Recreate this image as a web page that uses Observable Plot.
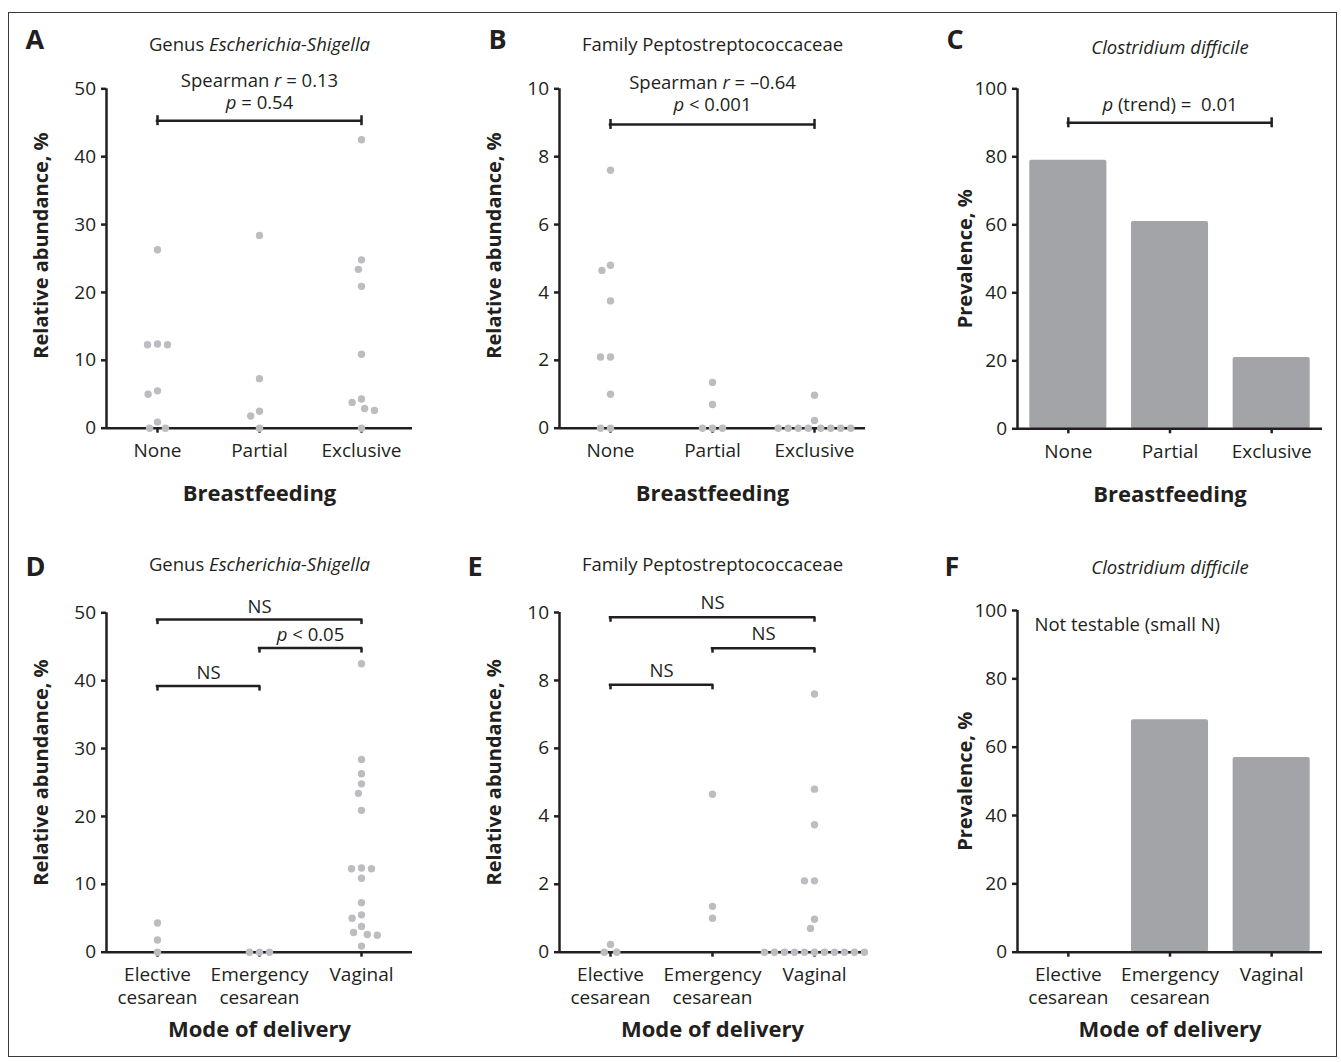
<!DOCTYPE html>
<html><head><meta charset="utf-8">
<script src="https://cdn.jsdelivr.net/npm/d3@7"></script>
<script src="https://cdn.jsdelivr.net/npm/@observablehq/plot@0.6"></script>
<style>
body{margin:0;background:#fff;font-family:"Open Sans",sans-serif;}
#fig{position:relative;width:1341px;height:1062px;overflow:hidden;background:#fff;}
.border{position:absolute;left:8px;top:12px;width:1329px;height:1045px;border:1.3px solid #3a3a3a;box-sizing:border-box;}
.panel{position:absolute;}
.panel svg{position:absolute;left:0;top:0;}
</style></head>
<body><div id="fig"><div class="border"></div></div>
<script>
// ---------- categories ----------
const breastfeeding = ["None", "Partial", "Exclusive"];
const delivery = ["Elective cesarean", "Emergency cesarean", "Vaginal"];

// ---------- Genus Escherichia-Shigella, relative abundance (%) ----------
const eschNone = [26.3, 12.4, 12.3, 12.3, 5.5, 5.0, 0.9, 0, 0];
const eschPartial = [28.4, 7.3, 2.5, 1.8, 0];
const eschExclusive = [42.5, 24.8, 23.4, 20.9, 10.9, 4.3, 3.8, 2.9, 2.6, 0];
const eschElective = [4.3, 1.8, 0];
const eschEmergency = [0, 0, 0];
const eschVaginal = [42.5, 28.4, 26.3, 24.8, 23.4, 20.9, 12.4, 12.3, 12.3, 10.9, 7.3, 5.5, 5.0, 3.8, 2.9, 2.6, 2.5, 0.9];

// ---------- Family Peptostreptococcaceae, relative abundance (%) ----------
const peptoNone = [7.6, 4.8, 4.65, 3.75, 2.1, 2.1, 1.0, 0, 0];
const peptoPartial = [1.35, 0.7, 0, 0, 0];
const peptoExclusive = [0.97, 0.23, 0, 0, 0, 0, 0, 0, 0, 0];
const peptoElective = [0.23, 0, 0];
const peptoEmergency = [4.65, 1.35, 1.0];
const peptoVaginal = [7.6, 4.8, 3.75, 2.1, 2.1, 0.97, 0.7, 0, 0, 0, 0, 0, 0, 0, 0, 0, 0, 0];

// ---------- Clostridium difficile prevalence (%) ----------
const cdiffBreastfeeding = [79, 61, 21];
const cdiffDelivery = [0, 68, 57];

// ---------- tick values ----------
const ticksEsch = [0, 10, 20, 30, 40, 50];
const ticksPepto = [0, 2, 4, 6, 8, 10];
const ticksPrev = [0, 20, 40, 60, 80, 100];

// ---------- comparisons (category indices, bracket level in y units) ----------
const cmpA = [{from: 0, to: 2, level: 45.3, label: "Spearman _r_ = 0.13\n_p_ = 0.54"}];
const cmpB = [{from: 0, to: 2, level: 8.95, label: "Spearman _r_ = \u20130.64\n_p_ < 0.001"}];
const cmpC = [{from: 0, to: 2, level: 90, label: "_p_ (trend) =  0.01"}];
const cmpD = [
  {from: 0, to: 2, level: 49.0, label: "NS"},
  {from: 1, to: 2, level: 44.8, label: "_p_ < 0.05"},
  {from: 0, to: 1, level: 39.2, label: "NS"}
];
const cmpE = [
  {from: 0, to: 2, level: 9.86, label: "NS"},
  {from: 1, to: 2, level: 8.95, label: "NS"},
  {from: 0, to: 1, level: 7.87, label: "NS"}
];

const INK = "#231f20", DOT = "#bcbdc0", BAR = "#a3a4a7";
const FONT = "'Open Sans', sans-serif";

function italicize(svg) {
  svg.querySelectorAll("text, tspan").forEach(el => {
    if (el.children.length) return;
    const s = el.textContent;
    if (!s || !s.includes("_")) return;
    el.textContent = "";
    s.split(/(_[^_]+_)/).forEach(part => {
      if (!part) return;
      if (part.startsWith("_") && part.endsWith("_")) {
        const t = document.createElementNS("http://www.w3.org/2000/svg", "tspan");
        t.setAttribute("font-style", "italic");
        t.textContent = part.slice(1, -1);
        el.appendChild(t);
      } else {
        el.appendChild(document.createTextNode(part));
      }
    });
  });
}

function panel(c) {
  const n = c.cats.length;
  const centers = c.cats.map((_, i) => i + 0.5);
  const dims = {width: c.width, height: c.height, marginTop: c.mt, marginRight: c.mr, marginBottom: c.mb, marginLeft: c.ml};
  const marks = [];
  if (c.bars) {
    marks.push(Plot.rectY(c.bars.map((v, i) => ({i, v})), {
      x1: "i", x2: d => d.i + 1, y: "v", fill: BAR, insetLeft: 12.3, insetRight: 12.3, rx: 2
    }));
  }
  const caps = (c.cmps || []).flatMap(d => [{x: d.from + 0.5, level: d.level}, {x: d.to + 0.5, level: d.level}]);
  marks.push(
    Plot.axisY({ticks: c.yTicks, tickSize: 5, tickPadding: 5.5, strokeWidth: 2.5, color: INK, fontSize: 19, label: null}),
    Plot.axisX({ticks: centers, tickFormat: d => c.cats[Math.floor(d)].replace(" ", "\n"),
      tickSize: 5, tickPadding: 8, strokeWidth: 2.5, color: INK, fontSize: 19, label: null, lineHeight: 1.2}),
    Plot.ruleY([0], {stroke: INK, strokeWidth: 2.5}),
    Plot.ruleX([0], {stroke: INK, strokeWidth: 2.5}),
    Plot.ruleY(c.cmps || [], {x1: d => d.from + 0.5, x2: d => d.to + 0.5, y: "level", stroke: INK, strokeWidth: 2.5, strokeLinecap: "square"}),
    Plot.ruleX(caps, {x: "x", y1: "level", y2: "level", insetTop: c.capDown, insetBottom: c.capUp, stroke: INK, strokeWidth: 2.5}),
    Plot.text(c.cmps || [], {x: d => (d.from + d.to) / 2 + 0.5, y: "level", text: "label", lineAnchor: "bottom",
      dy: c.textDy, fontSize: 18.5, lineHeight: c.lineH || 1.2, fill: INK}),
    Plot.text([c.title], {text: d => d, frameAnchor: "top", dy: c.titleDy, lineAnchor: "bottom", fontSize: 18.5, fill: INK}),
    Plot.text([c.letter], {text: d => d, frameAnchor: "top-left", dx: c.letterDx, dy: c.letterDy, textAnchor: "start",
      lineAnchor: "bottom", fontSize: 27, fontWeight: "bold", fill: INK}),
    Plot.text([c.yLabel], {text: d => d, frameAnchor: "left", rotate: -90, textAnchor: "middle", lineAnchor: "middle",
      dx: c.yLabDx, dy: c.yLabDy, fontSize: 20, fontWeight: "bold", fill: INK}),
    Plot.text([c.xLabel], {text: d => d, frameAnchor: "bottom", dy: c.xLabDy, lineAnchor: "top", fontSize: 22, fontWeight: "bold", fill: INK})
  );
  if (c.note) {
    marks.push(Plot.text([c.note], {text: d => d, frameAnchor: "top-left", dx: 17, dy: 20, textAnchor: "start", lineAnchor: "bottom", fontSize: 18.5, fill: INK}));
  }
  const base = Plot.plot({
    ...dims,
    style: {fontFamily: FONT, fontSize: "19px", color: INK, background: "transparent", overflow: "visible"},
    x: {domain: [0, n]},
    y: {domain: [0, c.yMax]},
    marks
  });
  italicize(base);
  const div = document.createElement("div");
  div.className = "panel";
  div.style.left = c.left + "px";
  div.style.top = c.top + "px";
  div.style.width = c.width + "px";
  div.style.height = c.height + "px";
  div.appendChild(base);
  if (c.groups) {
    const rows = c.groups.flatMap((vals, i) => vals.map(v => ({group: c.cats[i], value: v})));
    const dots = Plot.plot({
      ...dims,
      style: {background: "transparent", overflow: "visible"},
      fx: {domain: c.cats, padding: 0, axis: null},
      y: {domain: [0, c.yMax], axis: null},
      marks: [
        Plot.dot(rows, Plot.dodgeX({anchor: "middle", padding: 2.6}, {fx: "group", y: "value", r: 3.7, fill: DOT}))
      ]
    });
    div.appendChild(dots);
  }
  document.getElementById("fig").appendChild(div);
}

// ---------- top row ----------
panel({left: 0, top: 0, width: 440, height: 520, ml: 106, mr: 28, mt: 88.3, mb: 92.3,
  cats: breastfeeding, yMax: 50, yTicks: ticksEsch, groups: [eschNone, eschPartial, eschExclusive],
  letter: "A", letterDx: -81, letterDy: -40.3, title: "Genus _Escherichia-Shigella_", titleDy: -38.3,
  yLabel: "Relative abundance, %", yLabDx: -65, yLabDy: -13, xLabel: "Breastfeeding", xLabDy: 56.7,
  cmps: cmpA, capUp: 5, capDown: 5, textDy: -12, lineH: 1.19});
panel({left: 460, top: 0, width: 440, height: 520, ml: 99, mr: 35, mt: 88.3, mb: 92.3,
  cats: breastfeeding, yMax: 10, yTicks: ticksPepto, groups: [peptoNone, peptoPartial, peptoExclusive],
  letter: "B", letterDx: -71, letterDy: -40.3, title: "Family Peptostreptococcaceae", titleDy: -38.3,
  yLabel: "Relative abundance, %", yLabDx: -65, yLabDy: -13, xLabel: "Breastfeeding", xLabDy: 56.7,
  cmps: cmpB, capUp: 5, capDown: 5, textDy: -13.6, lineH: 1.16});
panel({left: 920, top: 0, width: 421, height: 520, ml: 97, mr: 19, mt: 88.3, mb: 91.7,
  cats: breastfeeding, yMax: 100, yTicks: ticksPrev, bars: cdiffBreastfeeding,
  letter: "C", letterDx: -71, letterDy: -40.3, title: "_Clostridium difficile_", titleDy: -35,
  yLabel: "Prevalence, %", yLabDx: -52, yLabDy: 0, xLabel: "Breastfeeding", xLabDy: 57.8,
  cmps: cmpC, capUp: 5, capDown: 5, textDy: -11.6});

// ---------- bottom row ----------
panel({left: 0, top: 520, width: 440, height: 542, ml: 106, mr: 28, mt: 92.3, mb: 110.3,
  cats: delivery, yMax: 50, yTicks: ticksEsch, groups: [eschElective, eschEmergency, eschVaginal],
  letter: "D", letterDx: -81, letterDy: -37.3, title: "Genus _Escherichia-Shigella_", titleDy: -42.3,
  yLabel: "Relative abundance, %", yLabDx: -65, yLabDy: -10, xLabel: "Mode of delivery", xLabDy: 69.4,
  cmps: cmpD, capUp: 0, capDown: 5, textDy: -7});
panel({left: 460, top: 520, width: 440, height: 542, ml: 99, mr: 35, mt: 92, mb: 110.3,
  cats: delivery, yMax: 10, yTicks: ticksPepto, groups: [peptoElective, peptoEmergency, peptoVaginal],
  letter: "E", letterDx: -92, letterDy: -37, title: "Family Peptostreptococcaceae", titleDy: -42,
  yLabel: "Relative abundance, %", yLabDx: -65, yLabDy: -10, xLabel: "Mode of delivery", xLabDy: 69.4,
  cmps: cmpE, capUp: 0, capDown: 5, textDy: -8});
panel({left: 920, top: 520, width: 421, height: 542, ml: 97, mr: 19, mt: 90, mb: 110.3,
  cats: delivery, yMax: 100, yTicks: ticksPrev, bars: cdiffDelivery,
  letter: "F", letterDx: -73, letterDy: -35, title: "_Clostridium difficile_", titleDy: -37,
  yLabel: "Prevalence, %", yLabDx: -52, yLabDy: 0, xLabel: "Mode of delivery", xLabDy: 69.4,
  cmps: [], note: "Not testable (small N)"});
</script>
</body></html>
